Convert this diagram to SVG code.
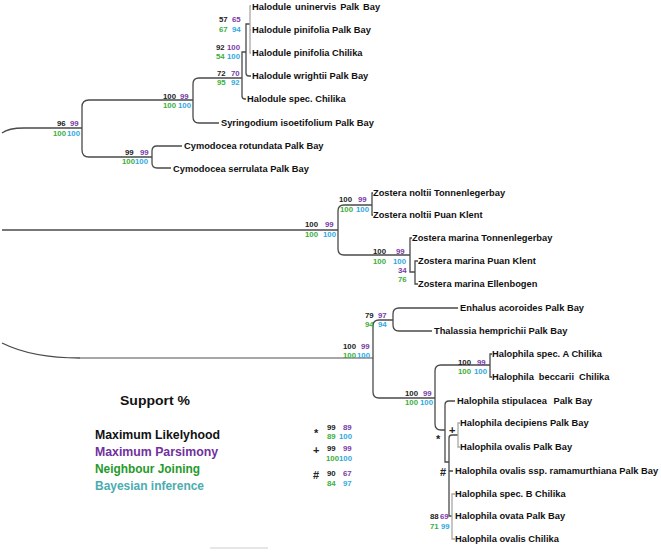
<svg xmlns="http://www.w3.org/2000/svg" width="661" height="552" viewBox="0 0 661 552">
<style>
text{font-family:"Liberation Sans",Arial,sans-serif}
.t{font-size:9.3px;font-weight:bold;fill:#111}
.s{font-size:7.8px;font-weight:bold}
.k{fill:#222}.p{fill:#7b3aa6}.g{fill:#3cae3c}.b{fill:#32a8e0}
.sym{font-size:11px;font-weight:bold;fill:#222}
.e{fill:none;stroke:#4a4a4a;stroke-width:1.3}
.gr{fill:none;stroke:#a8a8a8;stroke-width:1.3}
.lg{font-size:13px;font-weight:bold}
</style>
<rect width="661" height="552" fill="#fff"/>
<g id="connectors">
<path class="e" d="M2,133 C7,129 13,128 24,128 H82"/>
<path class="e" d="M193,100 H89 Q82,100 82,107 V150 Q82,157 89,157 H152"/>
<path class="e" d="M242,78 H199 Q193,78 193,84 V117 Q193,123 199,123 H219"/>
<path class="e" d="M182,146 H157 Q152,146 152,151 V163 Q152,168 157,168 H171"/>
<path class="e" d="M246,52 H242 V96 Q242,99 245,99 H246"/>
<path class="e" d="M250,24 H246 V73 Q246,76 249,76 H251"/>
<path class="gr" d="M251,6 H250 V53 H251 M250,30 H251"/>
<path class="e" d="M2,230 H338"/>
<path class="e" d="M372,205 H344 Q338,205 338,211 V249 Q338,255 344,255 H410"/>
<path class="e" d="M373,193 H372 V215 H373"/>
<path class="e" d="M412,238 H410 V272 H415"/>
<path class="e" d="M418,261 H415 V284 H418"/>
<path class="e" d="M2,343 C20,352 45,358 80,358"/>
<path fill="none" stroke="#8a8a8a" stroke-width="1.6" d="M80,358 H373"/>
<path class="e" d="M393,320 H379 Q373,320 373,326 V392 Q373,398 379,398 H435"/>
<path class="e" d="M458,308 H399 Q393,308 393,314 V325 Q393,331 399,331 H432"/>
<path class="e" d="M490,365 H441 Q435,365 435,371 V424 Q435,430 441,430 H445"/>
<path class="e" d="M492,354 H490 V377 H492"/>
<path class="e" d="M455,401 H449 Q445,401 445,405 V462 H449"/>
<path class="e" d="M458,435 H452 Q449,435 449,438 V516 H452 M449,471 H453"/>
<path class="gr" d="M460,423 H458 V447 H460"/>
<path class="gr" d="M455,494 H452 V539 H455"/>
<path d="M210,548 H268" stroke="#e6e6e6" stroke-width="2"/>
</g>
<g id="taxa">
<g id="n1"><text class="t" x="252" y="10.4" word-spacing="1.2">Halodule uninervis Palk Bay</text></g>
<g id="n2"><text class="t" x="252" y="33.4">Halodule pinifolia Palk Bay</text></g>
<g id="n3"><text class="t" x="252" y="56.4">Halodule pinifolia Chilika</text></g>
<g id="n4"><text class="t" x="252" y="79.4">Halodule wrightii Palk Bay</text></g>
<g id="n5"><text class="t" x="247" y="102.4">Halodule spec. Chilika</text></g>
<g id="n6"><text class="t" x="221" y="126.4">Syringodium isoetifolium Palk Bay</text></g>
<g id="n7"><text class="t" x="184" y="149.4">Cymodocea rotundata Palk Bay</text></g>
<g id="n8"><text class="t" x="173" y="172.4">Cymodocea serrulata Palk Bay</text></g>
<g id="n9"><text class="t" x="373" y="196.4">Zostera noltii Tonnenlegerbay</text></g>
<g id="n10"><text class="t" x="373" y="218.4">Zostera noltii Puan Klent</text></g>
<g id="n11"><text class="t" x="412" y="241.4">Zostera marina Tonnenlegerbay</text></g>
<g id="n12"><text class="t" x="418" y="264.4">Zostera marina Puan Klent</text></g>
<g id="n13"><text class="t" x="418" y="287.4">Zostera marina Ellenbogen</text></g>
<g id="n14"><text class="t" x="460" y="311.4">Enhalus acoroides Palk Bay</text></g>
<g id="n15"><text class="t" x="434" y="334.4">Thalassia hemprichii Palk Bay</text></g>
<g id="n16"><text class="t" x="492" y="357.4">Halophila spec. A Chilika</text></g>
<g id="n17"><text class="t" x="492" y="380.4" word-spacing="2.4">Halophila beccarii Chilika</text></g>
<g id="n18"><text class="t" x="457" y="404.4">Halophila stipulacea <tspan dx="4">Palk Bay</tspan></text></g>
<g id="n19"><text class="t" x="460" y="426.4">Halophila decipiens Palk Bay</text></g>
<g id="n20"><text class="t" x="460" y="450.4">Halophila ovalis Palk Bay</text></g>
<g id="n21"><text class="t" x="455" y="474.4">Halophila ovalis ssp. ramamurthiana Palk Bay</text></g>
<g id="n22"><text class="t" x="455" y="497.4">Halophila spec. B Chilika</text></g>
<g id="n23"><text class="t" x="455" y="519.4">Halophila ovata Palk Bay</text></g>
<g id="n24"><text class="t" x="455" y="542.4">Halophila ovalis Chilika</text></g>
</g>
<g id="support">
<g id="s1"><text class="s k" x="219" y="21.8">57</text><text class="s p" x="232" y="21.8">65</text><text class="s g" x="219" y="31.8">67</text><text class="s b" x="232" y="31.8">94</text></g>
<g id="s2"><text class="s k" x="216" y="49.8">92</text><text class="s p" x="227" y="49.8">100</text><text class="s g" x="216" y="58.8">54</text><text class="s b" x="227" y="58.8">100</text></g>
<g id="s3"><text class="s k" x="217" y="75.8">72</text><text class="s p" x="231" y="75.8">70</text><text class="s g" x="217" y="84.8">95</text><text class="s b" x="231" y="84.8">92</text></g>
<g id="s4"><text class="s k" x="163" y="98.8">100</text><text class="s p" x="180" y="98.8">99</text><text class="s g" x="163" y="107.8">100</text><text class="s b" x="178" y="107.8">100</text></g>
<g id="s5"><text class="s k" x="57" y="125.8">96</text><text class="s p" x="70" y="125.8">99</text><text class="s g" x="53" y="135.8">100</text><text class="s b" x="67" y="135.8">100</text></g>
<g id="s6"><text class="s k" x="125" y="154.8">99</text><text class="s p" x="140" y="154.8">99</text><text class="s g" x="122" y="163.8">100</text><text class="s b" x="135" y="163.8">100</text></g>
<g id="s7"><text class="s k" x="339" y="201.8">100</text><text class="s p" x="358" y="201.8">99</text><text class="s g" x="340" y="211.8">100</text><text class="s b" x="356" y="211.8">100</text></g>
<g id="s8"><text class="s k" x="305" y="226.8">100</text><text class="s p" x="325" y="226.8">99</text><text class="s g" x="305" y="236.8">100</text><text class="s b" x="323" y="236.8">100</text></g>
<g id="s9"><text class="s k" x="373" y="253.8">100</text><text class="s p" x="396" y="253.8">99</text><text class="s g" x="373" y="263.8">100</text><text class="s b" x="393" y="263.8">100</text><text class="s p" x="398" y="272.8">34</text><text class="s g" x="398" y="281.8">76</text></g>
<g id="s10"><text class="s k" x="365" y="317.8">79</text><text class="s p" x="378" y="317.8">97</text><text class="s g" x="365" y="326.8">94</text><text class="s b" x="378" y="326.8">94</text></g>
<g id="s11"><text class="s k" x="343" y="348.8">100</text><text class="s p" x="361" y="348.8">99</text><text class="s g" x="343" y="357.8">100</text><text class="s b" x="357" y="357.8">100</text></g>
<g id="s12"><text class="s k" x="405" y="395.8">100</text><text class="s p" x="423" y="395.8">99</text><text class="s g" x="405" y="404.8">100</text><text class="s b" x="420" y="404.8">100</text></g>
<g id="s13"><text class="s k" x="458" y="364.8">100</text><text class="s p" x="477" y="364.8">99</text><text class="s g" x="458" y="373.8">100</text><text class="s b" x="474" y="373.8">100</text></g>
<g id="s14"><text class="s k" x="430" y="518.8">88</text><text class="s p" x="440" y="518.8">69</text><text class="s g" x="430" y="528.8">71</text><text class="s b" x="441" y="528.8">99</text></g>
<text class="sym" x="436" y="443">*</text>
<text class="sym" x="449" y="434">+</text>
<text class="sym" x="440" y="476">#</text>
</g>
<g id="legend">
<text x="120" y="405" font-size="12.5" font-weight="bold" fill="#111" textLength="70" lengthAdjust="spacingAndGlyphs">Support %</text>
<text class="lg" x="95" y="439" fill="#111" textLength="125" lengthAdjust="spacingAndGlyphs">Maximum Likelyhood</text>
<text class="lg" x="95" y="456" fill="#7030a0" textLength="123" lengthAdjust="spacingAndGlyphs">Maximum Parsimony</text>
<text class="lg" x="95" y="473" fill="#1f9a2a" textLength="105" lengthAdjust="spacingAndGlyphs">Neighbour Joining</text>
<text class="lg" x="95" y="490" fill="#4bacb0" textLength="109" lengthAdjust="spacingAndGlyphs">Bayesian inference</text>
<text class="sym" x="314" y="437">*</text>
<text class="s k" x="327" y="429.8">99</text><text class="s p" x="343" y="429.8">89</text><text class="s g" x="327" y="438.8">89</text><text class="s b" x="339" y="438.8">100</text>
<text class="sym" x="313" y="454">+</text>
<text class="s k" x="327" y="450.8">99</text><text class="s p" x="343" y="450.8">99</text><text class="s g" x="326" y="460.8">100</text><text class="s b" x="339" y="460.8">100</text>
<text class="sym" x="313" y="479">#</text>
<text class="s k" x="327" y="475.8">90</text><text class="s p" x="343" y="475.8">67</text><text class="s g" x="327" y="485.8">84</text><text class="s b" x="343" y="485.8">97</text>
</g>
</svg>
